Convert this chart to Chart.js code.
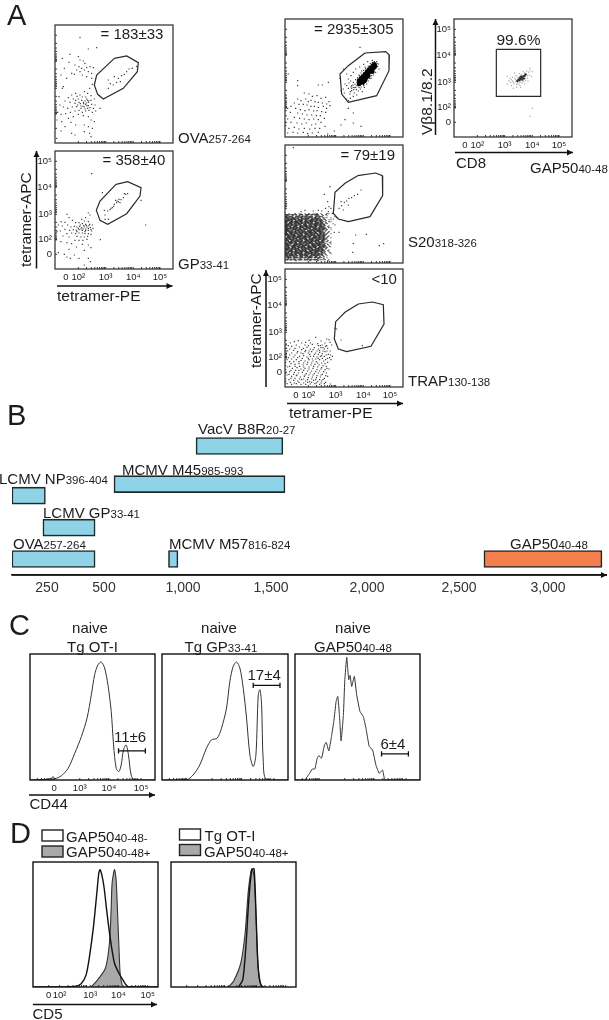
<!DOCTYPE html>
<html><head><meta charset="utf-8">
<style>html,body{margin:0;padding:0;background:#fff;width:609px;height:1020px;overflow:hidden}
canvas{position:absolute}svg{position:absolute;left:0;top:0;pointer-events:none}</style>
<script src="https://cdn.jsdelivr.net/npm/chart.js@4"></script></head><body>
<svg id="ov" width="609" height="1020"></svg>
<script>
// ---------- Panel A: cytometry events (channel units, y down, 0-354)
const ovaDots=[75,37,100,72,125,68,45,88,22,100,70,95,75,105,85,108,90,115,60,120,42,112,72,125,80,130,95,128,105,125,115,128,65,135,75,140,88,135,100,140,28,130,110,145,58,148,82,150,95,155,50,145,18,150,110,160,35,160,25,185,112,178,104,190,98,205,88,200,75,210,62,205,50,210,40,218,55,222,70,222,82,216,95,222,108,212,118,222,30,228,45,232,60,235,72,232,85,232,92,238,100,232,110,238,120,240,15,240,25,246,38,250,52,246,65,245,78,243,88,246,96,242,105,248,115,250,8,262,18,268,32,266,46,262,60,258,72,256,82,262,92,258,102,256,112,262,122,258,6,285,20,290,40,280,55,275,70,268,85,272,100,275,108,285,118,290,48,292,30,305,62,300,88,300,100,305,112,310,18,318,50,325,60,330,88,320,104,325,108,335,5,340,160,190,166,176,175,180,178,155,190,160,200,152,208,148,215,140,222,132,232,130,245,124,196,170,185,172,160,165,135,250,22,190,12,215,90,228,98,226,86,236,94,234,102,228,80,226,76,236,68,240,84,244,100,242,108,226,92,216,66,214,78,250,90,252,98,250,62,226];
const gpDots=[110,68,36,190,42,200,100,186,105,192,92,200,80,205,88,210,100,212,18,212,30,214,52,208,62,215,72,215,82,218,92,220,104,220,112,222,10,222,22,225,38,222,48,228,58,226,66,228,74,226,80,230,88,228,96,228,106,230,114,232,30,235,44,238,55,236,64,238,72,236,82,238,92,238,100,238,110,240,6,242,16,240,36,248,50,246,62,248,72,246,82,246,90,248,100,248,108,250,24,255,42,258,66,256,78,258,88,258,98,256,60,268,72,268,84,268,96,265,18,272,36,275,50,278,82,280,100,282,108,290,64,288,42,295,88,298,28,310,36,318,58,312,72,322,100,322,106,332,88,342,46,322,10,305,136,266,272,222,258,148,142,125,148,178,150,192,158,180,165,176,172,170,178,160,185,155,190,152,198,146,205,140,212,130,218,128,160,205,150,205,182,148,195,155,208,128,86,224,94,224,84,234,92,234,100,232,78,234,70,232,76,222,90,242,102,224,108,236,66,242,186,150,192,145,176,166,168,172];
const bigDots=[222,185,228,178,234,172,240,165,246,158,252,152,258,146,264,140,268,136,230,186,236,180,242,172,248,165,254,158,260,152,266,146,226,192,234,190,222,195,244,176,250,170,270,142,262,158,240,184];
const bigHalo=[175,150,185,165,190,180,198,170,205,160,212,150,224,144,236,136,248,128,262,124,275,128,278,142,282,150,272,160,266,168,258,178,250,186,245,195,238,205,226,210,214,212,200,215,190,208,185,200,180,195,175,210,168,215,178,222,195,225,205,232,215,228,232,218,200,200,192,192,197,186,205,205,212,205,222,205,236,200,248,178,268,152,280,135,196,238,185,240,190,245,225,85,165,178,130,190,112,198,100,198,38,200,10,165,38,185,205,190,210,196,216,190,212,182,218,176,224,170,228,162,236,154,242,148,250,142,256,134,272,148,216,200,206,212,200,208,196,218,208,222,220,216,228,204,236,196,242,190,254,178,260,170,204,198,198,204,210,206,222,168,230,156,240,144,262,130,268,128,276,134];
const bigLow=[58,222,72,225,82,232,96,230,108,238,122,235,132,248,38,240,48,245,62,240,70,248,78,244,90,248,100,250,112,252,125,255,135,260,28,252,42,256,55,256,66,258,78,262,88,262,100,265,115,262,125,268,18,262,8,268,32,268,46,272,60,275,72,272,86,276,96,275,110,278,122,280,16,280,38,282,52,285,66,288,80,288,94,290,106,290,28,295,44,298,58,300,72,302,86,300,100,302,118,298,8,300,18,310,36,312,50,315,64,312,80,318,92,315,108,310,2,320,12,328,28,325,42,330,58,328,74,330,90,328,104,328,120,322,8,342,24,340,38,342,55,340,68,344,82,342,100,340,128,345,3,235,3,250,3,275,3,290,180,302,205,282,205,312,228,322,190,268,168,318,148,336];
// S20 dense block: one char per cell, '#' solid, '+' medium, '.' sparse
const s20Grid=[
". .  + .. . + ..+ .  +. .",
".+. + .+ ..+ . .+. + .   ",
"+#+.#+.+#.++#+.#.+ +.. . ",
"#+##+#.##+#+.##+#+#.+ .. ",
"##.#+##+#.##+#+#+.#+. +. ",
"#+##.#+##+#.##+##+#+.+  .",
"##+#+##.#+##+#.##+#.+ .  ",
"+#.##+#+##.##+##.#+#+ +. ",
"##+.##+##+#+.##+##+#.+ . ",
"#+##+#.#+##+##.#+##+. +  ",
"##.#+##+#.##+#+##.#+.+ . ",
"#+#+##.##+#.##+#+#+#+ .  ",
".##+#+##+##+#.##+#+#.+ . ",
"##+##.#+#.##+##.##+#+.   ",
"#.##+#+##+#+##+#.#+#.+ . ",
"##+#.##+#+.##+#+##+.+. . ",
"+##+##+#.##+#.##+#+#+ .  ",
"#+#.##.##+#+##+#.##+.+   ",
"##+#+#+#.##.#+##+#+#. .  ",
"#.##+##+#+##+#.##+#.+ .  ",
"##+#.#+##.#+##+#+#+.+  . ",
"+#+##+#.#+##.#+##+.+ .   ",
"#+##.##+#+#+##.#+#+. .   ",
"##+#+#.##.##+#+##.+.+ .  "];
const s20Dots=[135,125,118,148,128,170,122,190,132,185,138,190,142,205,150,215,156,218,150,240,162,262,148,262,130,200,110,198,100,196,85,198,60,196,48,200,25,8,145,222,162,190,170,182,178,172,185,168,192,160,200,158,208,152,218,148,228,135,190,180,175,195,168,170,212,270,244,268,205,295,203,322,296,296,283,302];
const trapDots=[92,205,125,210,132,212,72,214,108,216,120,222,135,220,28,218,40,215,50,222,62,220,82,226,98,224,112,228,125,230,140,228,10,230,20,232,34,228,44,234,55,238,66,235,76,240,88,236,100,240,108,236,118,240,128,238,136,246,8,246,26,244,38,248,48,252,60,248,70,252,80,248,92,252,104,250,112,254,120,248,130,256,142,262,14,258,30,258,44,262,56,260,66,264,76,262,86,262,96,264,106,262,118,262,128,268,138,272,6,272,20,270,34,272,48,274,60,276,72,272,84,276,94,278,104,272,116,276,128,280,18,284,30,286,42,284,54,288,66,286,78,288,90,286,102,288,114,290,124,292,8,294,22,298,36,296,48,300,60,298,72,300,84,298,96,302,108,300,120,302,132,300,14,308,28,310,40,312,52,310,64,314,76,312,88,314,100,312,112,316,124,312,6,318,20,322,34,320,46,324,58,322,70,326,82,324,94,326,106,324,118,328,128,322,12,332,26,334,38,336,50,332,62,336,74,338,86,334,98,338,110,336,122,340,6,344,20,346,34,344,48,346,62,346,76,345,90,344,104,346,118,344,136,345,155,180,168,213,232,230,150,178,100,230,76,222,
4,225,16,222,60,228,70,230,106,230,114,236,122,232,4,238,14,240,30,238,50,242,62,244,72,246,84,242,96,246,104,244,114,246,126,246,4,254,20,252,36,252,54,254,74,256,88,256,100,256,110,260,124,258,136,258,10,266,26,264,38,266,52,268,70,268,82,270,92,270,100,268,112,268,122,272,134,266,2,280,14,278,26,278,42,278,56,282,68,280,80,282,98,282,110,282,120,284,2,290,14,292,30,292,44,292,56,294,72,294,86,292,98,294,110,296,126,298,2,302,18,304,32,304,42,304,56,304,68,306,80,306,92,308,104,306,116,308,2,312,12,316,26,316,36,318,60,318,72,318,84,318,96,320,108,318,122,320,2,330,18,328,30,328,44,330,56,330,68,332,80,330,92,332,104,332,114,332,2,338,16,340,28,342,42,340,56,342,68,340,80,340,94,342,108,342];
const cd8Core=[190,186,196,184,200,180,204,176,208,172,212,170,198,176,205,182,210,178,194,181,215,166,202,172];
const cd8Halo=[160,172,165,185,160,195,172,200,178,208,188,205,198,200,212,195,222,186,232,172,235,158,228,155,218,156,208,158,196,164,186,170,175,175,170,190,180,195,195,195,208,188,220,178,226,168,200,205,190,192,176,186,228,148,182,162,235,268,228,292,168,178,185,182,178,190,188,196,204,192,214,184,220,170,224,160,212,162,202,166,192,174,182,178,172,182,186,188,198,190];
const ovaGate=[178,100,215,93,250,113,247,140,205,190,145,222,128,208,118,180,125,150,178,100];
const gpGate=[183,100,218,92,258,110,255,135,215,188,158,220,135,208,124,178,135,150,183,100];
const bigGate=[240,102,302,98,313,108,312,155,275,230,190,250,170,225,165,165,190,140,240,102];
const s20Gate=[218,92,272,84,292,92,293,152,255,215,190,230,160,222,145,205,150,142,180,115,218,92];
const trapGate=[220,105,262,99,295,107,297,165,258,232,185,248,160,240,148,210,152,158,180,130,220,105];
const cd8Gate=[127,91,260,91,260,232,127,232,127,91];
const flowXTicks=[33,70,152,235,315], flowYTicks=[31,108,190,266,310];
const flowXLabels=['0','10²','10³','10⁴','10⁵'], flowYLabels=['10⁵','10⁴','10³','10²','0'];
// ---------- Panel B: epitope frequency ranges
const epitopes=['VacV B8R','MCMV M45','LCMV NP','LCMV GP','OVA','MCMV M57','GAP50'];
const rangeLow=[1074,563,96,232,96,908,2640], rangeHigh=[1562,1573,243,461,461,968,3303];
const lanes=[4.03,2.84,2.48,1.48,0.5,0.5,0.5];
const barColors=['#8fd4e6','#8fd4e6','#8fd4e6','#8fd4e6','#8fd4e6','#8fd4e6','#f57f4c'];
const freqTicks=[250,500,1000,1500,2000,2500,3000];
const freqTickFractions=[.0589,.1549,.2879,.436,.5976,.7525,.9024];
// ---------- Panel C: CD44 histograms (channel, height)
const otCurve=[0,0,60,3,70,10,75,4,95,13,115,35,135,80,155,130,172,185,185,255,195,315,205,345,215,353,225,335,235,285,245,205,252,105,260,35,268,25,275,45,282,90,290,105,297,75,305,15,315,0,376,0];
const gpCurve=[0,0,73,0,93,15,113,45,133,95,148,120,165,125,178,155,193,215,203,295,213,340,223,353,233,335,243,275,253,185,263,75,273,40,281,75,288,255,293,270,298,225,303,55,313,0,377,0];
const gapCurve=[0,0,29,0,44,20,52,33,60,33,67,65,72,73,80,65,89,105,94,113,102,87,110,130,117,175,124,235,129,250,134,195,139,117,146,195,150,295,156,367,162,300,166,313,171,280,179,310,186,255,196,205,206,190,214,155,224,100,234,90,244,45,254,20,264,30,272,0,374,0];
const cXTicks=[73,150,238,335], cXLabels=['0','10³','10⁴','10⁵'];
const bracketOT=[267,79,267,95,null,null,267,87,348,87,null,null,348,79,348,95];
const bracketGP=[273,275,273,291,null,null,273,283,353,283,null,null,353,275,353,291];
const bracketGAP=[261,70,261,86,null,null,261,78,342,78,null,null,342,70,342,86];
// ---------- Panel D: CD5 histograms (channel, height)
const negCurve=[0,0,125,2,145,10,160,37,170,92,182,182,192,282,198,342,202,352,208,332,214,297,222,227,233,142,245,72,258,42,270,22,285,2,376,0];
const posCurve=[175,0,195,22,218,57,230,132,235,232,238,312,245,352,250,322,254,232,258,132,262,42,268,7,275,0];
const otGreyCurve=[173,0,188,17,210,72,223,162,233,292,243,354,250,332,256,202,260,92,266,22,273,0];
const otLineCurve=[203,0,216,22,226,132,234,262,243,352,250,354,256,212,262,62,270,7,278,0];
const dXTicks=[47,80,172,257,345], dXLabels=['0','10²','10³','10⁴','10⁵'];

const FONT='"Liberation Sans",Arial,sans-serif', INK='#222';
Chart.defaults.font.family=FONT; Chart.defaults.color=INK;
const pairs=(a,yf)=>{const o=[];for(let i=0;i<a.length;i+=2)o.push(a[i]===null?{x:NaN,y:NaN}:{x:a[i],y:yf?yf(a[i+1]):a[i+1]});return o};
const dots=(a,c,r,s)=>({type:'scatter',data:pairs(a),backgroundColor:c,pointRadius:r,pointStyle:s||'rect',borderWidth:0,pointBorderWidth:0,showLine:false});
const gate=a=>({type:'scatter',data:pairs(a),showLine:true,borderColor:'#2a2a2a',borderWidth:1.2,pointRadius:0,fill:false,tension:0});
const gridDots=(rows,ch,x0,y0,cell,flip)=>{const o=[];const rr=flip?[...rows].reverse():rows;rr.forEach((r,j)=>[...r].forEach((c,i)=>{if(c===ch)o.push(x0+i*cell,y0+j*cell)}));return o};

const framePlugin={id:'frame',afterDraw(ch,_,o){const {ctx,chartArea:a}=ch;ctx.save();
  ctx.lineWidth=.9;ctx.strokeStyle='#222';ctx.beginPath();
  (o.xMarks||[]).forEach(v=>{const p=ch.scales.x.getPixelForValue(v);ctx.moveTo(p,a.bottom);ctx.lineTo(p,a.bottom-2)});
  (o.yMarks||[]).forEach(v=>{const p=ch.scales.y.getPixelForValue(v);ctx.moveTo(a.left,p);ctx.lineTo(a.left+2,p)});
  ctx.stroke();ctx.lineWidth=o.width;ctx.strokeStyle=o.color;ctx.strokeRect(a.left,a.top,a.right-a.left,a.bottom-a.top);ctx.restore()}};
const decadeMarks=(t,step,dir)=>{const o=[];const f=[.301,.477,.602,.699,.778,.845,.903,.954];t.forEach(v=>f.forEach(k=>o.push(v+dir*k*step)));return o};

function plot(f,datasets,c){
  const L=c.L||0,B=c.B||0,pad=12;
  const cv=document.createElement('canvas');
  cv.width=f.w+L+pad*2;cv.height=f.h+B+pad*2;
  cv.style.left=(f.x-L-pad)+'px';cv.style.top=(f.y-pad)+'px';
  cv.style.width=cv.width+'px';cv.style.height=cv.height+'px';
  document.body.insertBefore(cv,document.getElementById('ov'));
  const axis=(min,max,rev,vals,labs,show)=>({type:'linear',min,max,reverse:rev,
    afterBuildTicks:s=>{s.ticks=vals.map(v=>({value:v}))},
    grid:{display:false,drawTicks:false},border:{display:false},afterFit:s=>{if(s.axis==='x')s.height=B;else s.width=L},
    ticks:{display:show,autoSkip:false,maxRotation:0,minRotation:0,padding:3,color:INK,font:{size:9.5},callback:(v,i)=>labs[i]}});
  new Chart(cv,{data:{datasets:[...datasets].reverse()},plugins:[framePlugin],options:{responsive:false,animation:false,
    layout:{padding:{left:pad,top:pad,right:pad,bottom:pad}},
    plugins:{legend:{display:false},tooltip:{enabled:false},frame:{color:c.color||'#3a3a3a',width:c.width||1.3,xMarks:c.xMarks,yMarks:c.yMarks}},
    scales:{x:axis(0,c.xMax,false,c.xT,c.xL,!!B),y:axis(0,c.yMax,c.rev,c.yT||[],c.yL||[],!!L)}}});
}
const xm=[...flowXTicks.slice(1),...decadeMarks(flowXTicks.slice(1,4),82,1)];
const ym=[...flowYTicks,...decadeMarks(flowYTicks.slice(0,3),-80,-1)];
const flowCfg=lab=>({xMax:354,yMax:354,rev:true,xT:flowXTicks,xL:flowXLabels,yT:flowYTicks,yL:flowYLabels,L:lab?34:0,B:lab?16:0,xMarks:xm,yMarks:ym});
const D='#333',G='#8a8a8a';
plot({x:55,y:25,w:118,h:118},[dots(ovaDots,D,.8),gate(ovaGate)],flowCfg(false));
plot({x:55,y:151,w:118,h:118},[dots(gpDots,D,.8),gate(gpGate)],flowCfg(true));
plot({x:285,y:19,w:118,h:118},[dots(bigLow,D,.85),dots(bigHalo,D,.8),dots(bigDots,'#000',2.3,'circle'),gate(bigGate)],flowCfg(false));
plot({x:285,y:145,w:118,h:118},[
  dots(gridDots(s20Grid,'#',0,206,6),'#111',1.05),dots(gridDots(s20Grid,'+',0,206,6),'#222',.85),dots(gridDots(s20Grid,'.',0,206,6),'#333',.7),
  dots(gridDots(s20Grid,'#',3,209,6,true),'#111',1.05),dots(gridDots(s20Grid,'+',3,209,6,true),'#222',.85),
  dots(s20Dots,D,.8),gate(s20Gate)],flowCfg(false));
plot({x:285,y:269,w:118,h:118},[dots(trapDots,D,.8),gate(trapGate)],flowCfg(true));
plot({x:454,y:19,w:118,h:118},[dots(cd8Halo,G,.75),dots(cd8Core,'#333',1.2,'circle'),gate(cd8Gate)],flowCfg(true));

// ---- Panel B with a tick-anchored value axis
class PieceScale extends Chart.LinearScale{
  getPixelForValue(v){const t=freqTicks,f=freqTickFractions;let i=0;while(i<t.length-2&&v>t[i+1])i++;
    return this.getPixelForDecimal(f[i]+(v-t[i])*(f[i+1]-f[i])/(t[i+1]-t[i]))}
}
PieceScale.id='piece';PieceScale.defaults=Chart.LinearScale.defaults;Chart.register(PieceScale);
(function(){const cv=document.createElement('canvas');cv.width=609;cv.height=185;cv.style.left='0';cv.style.top='415px';cv.style.width='609px';cv.style.height='185px';
  document.body.insertBefore(cv,document.getElementById('ov'));
  new Chart(cv,{type:'bar',data:{datasets:[{data:epitopes.map((e,i)=>({x:[rangeLow[i],rangeHigh[i]],y:lanes[i]})),backgroundColor:barColors,borderColor:'#1f2a2e',borderWidth:1.6,borderSkipped:false,barThickness:17,grouped:false}]},
   options:{indexAxis:'y',responsive:false,animation:false,layout:{padding:{left:12,right:3,top:0,bottom:0}},plugins:{legend:{display:false},tooltip:{enabled:false}},
   scales:{x:{type:'piece',min:96,max:3326,afterBuildTicks:s=>{s.ticks=freqTicks.map(v=>({value:v}))},afterFit:s=>{s.height=25},grid:{display:false,drawTicks:false},border:{display:true,color:'#222',width:1.5},
      ticks:{autoSkip:false,maxRotation:0,padding:5,color:'#333',font:{size:14},callback:(v,i)=>freqTicks[i].toLocaleString('en-US')}},
    y:{type:'linear',min:0,max:5,display:false,offset:false}}}});
})();

// ---- Panel C
const hist=(a,t)=>({type:'scatter',data:pairs(a),showLine:true,borderColor:'#333',borderWidth:1,pointRadius:0,tension:t,fill:false,spanGaps:false});
const br=a=>({type:'scatter',data:pairs(a),showLine:true,borderColor:'#111',borderWidth:1.3,pointRadius:0,spanGaps:false});
const cMarks=[...cXTicks,...decadeMarks(cXTicks.slice(1,3),90,1),...decadeMarks([0],73,1).filter(v=>v>0)];
const cCfg=lab=>({xMax:377,yMax:377,rev:false,xT:cXTicks,xL:cXLabels,B:lab?16:0,color:'#111',width:1.4,xMarks:cMarks});
plot({x:30,y:654,w:125,h:126},[hist(otCurve,.3),br(bracketOT)],cCfg(true));
plot({x:162,y:654,w:126,h:126},[hist(gpCurve,.3),br(bracketGP)],cCfg(false));
plot({x:295,y:654,w:125,h:126},[hist(gapCurve,.12),br(bracketGAP)],cCfg(false));
// ---- Panel D
const fillC=(a)=>({type:'scatter',data:pairs(a),showLine:true,borderColor:'#333',borderWidth:1.1,backgroundColor:'#a9a9a9',fill:'origin',pointRadius:0,tension:.25});
const lineC=(a)=>({type:'scatter',data:pairs(a),showLine:true,borderColor:'#111',borderWidth:1.4,pointRadius:0,tension:.25,fill:false});
const dMarks=[...dXTicks,...decadeMarks(dXTicks.slice(1,4),85,1)];
const dCfg=lab=>({xMax:376,yMax:375,rev:false,xT:dXTicks,xL:dXLabels,B:lab?16:0,color:'#111',width:1.4,xMarks:dMarks});
plot({x:33,y:862,w:125,h:125},[fillC(posCurve),lineC(negCurve)],dCfg(true));
plot({x:171,y:862,w:125,h:125},[fillC(otGreyCurve),lineC(otLineCurve)],dCfg(false));

// ---------- Annotations
const NS='http://www.w3.org/2000/svg',ov=document.getElementById('ov');
function T(x,y,main,sub,o={}){const t=document.createElementNS(NS,'text');t.setAttribute('x',x);t.setAttribute('y',y);t.setAttribute('fill',o.c||'#1c1c1c');
  t.setAttribute('font-family',FONT);t.setAttribute('font-size',o.s||15);if(o.a)t.setAttribute('text-anchor',o.a);
  if(o.r)t.setAttribute('transform',`rotate(${o.r} ${x} ${y})`);t.textContent=main;
  if(sub){const s=document.createElementNS(NS,'tspan');s.setAttribute('font-size',o.ss||11.5);s.textContent=sub;t.appendChild(s)}ov.appendChild(t)}
function Arrow(x1,y1,x2,y2){const l=document.createElementNS(NS,'line');for(const[k,v]of Object.entries({x1,y1,x2,y2,stroke:'#111','stroke-width':1.5}))l.setAttribute(k,v);ov.appendChild(l);
  const p=document.createElementNS(NS,'polygon');const h=x1===x2?`${x2},${y2} ${x2-3},${y2+6} ${x2+3},${y2+6}`:`${x2},${y2} ${x2-6},${y2-3} ${x2-6},${y2+3}`;p.setAttribute('points',h);p.setAttribute('fill','#111');ov.appendChild(p)}
[['A',7,25],['B',7,425],['C',9,635],['D',10,843]].forEach(([s,x,y])=>T(x,y,s,'',{s:29}));
T(100.5,39,'= 183±33');T(102.5,165,'= 358±40');T(314,33.5,'= 2935±305');T(340.5,159.5,'= 79±19');T(371.5,283.5,'<10');
T(178,142.5,'OVA','257-264');T(178,268.5,'GP','33-41');T(408,246.5,'S20','318-326');T(408,385.5,'TRAP','130-138');
T(31,267,'tetramer-APC','',{r:-90,s:15.5});T(261,368,'tetramer-APC','',{r:-90,s:15.5});T(57,301,'tetramer-PE','',{s:15.5});T(289,418,'tetramer-PE','',{s:15.5});
T(432,135,'Vβ8.1/8.2','',{r:-90,s:15.5});T(496.5,45,'99.6%','',{s:15.5});T(456,167.5,'CD8');T(530,172.5,'GAP50','40-48');
Arrow(36.5,268.5,36.5,151);Arrow(57,286,172.5,286);Arrow(266,387,266,270);Arrow(287,403.5,403,403.5);Arrow(435.5,135,435.5,19);Arrow(455,152.5,573,152.5);
Arrow(12,575,607,575);Arrow(29,795,155,795);Arrow(33,1004.5,157,1004.5);
T(198,434,'VacV B8R','20-27');T(122,474.5,'MCMV M45','985-993');T(-1,484,'LCMV NP','396-404');T(43,517.5,'LCMV GP','33-41');T(13,548.5,'OVA','257-264');T(169,548.5,'MCMV M57','816-824');T(510,548.5,'GAP50','40-48');
T(90,633,'naive','',{a:'middle'});T(92.5,651.5,'Tg OT-I','',{a:'middle'});T(219,633,'naive','',{a:'middle'});T(184.5,651.5,'Tg GP','33-41');T(353,633,'naive','',{a:'middle'});T(314,651.5,'GAP50','40-48');
T(114,741.5,'11±6');T(247.5,680,'17±4');T(380.5,749,'6±4');T(29.5,809,'CD44');T(32.5,1018.5,'CD5');
T(66,841.5,'GAP50','40-48-');T(66,856.5,'GAP50','40-48+');T(204.5,840.5,'Tg OT-I');T(204,856.5,'GAP50','40-48+');
[[42,830,21,11,'#fff'],[42,846,21,11,'#a9a9a9'],[179.5,829,21,11,'#fff'],[179.5,844.5,21,11,'#a9a9a9']].forEach(([x,y,w,h,c])=>{const r=document.createElementNS(NS,'rect');for(const[k,v]of Object.entries({x,y,width:w,height:h,fill:c,stroke:'#222','stroke-width':1.4}))r.setAttribute(k,v);ov.appendChild(r)});
</script></body></html>
